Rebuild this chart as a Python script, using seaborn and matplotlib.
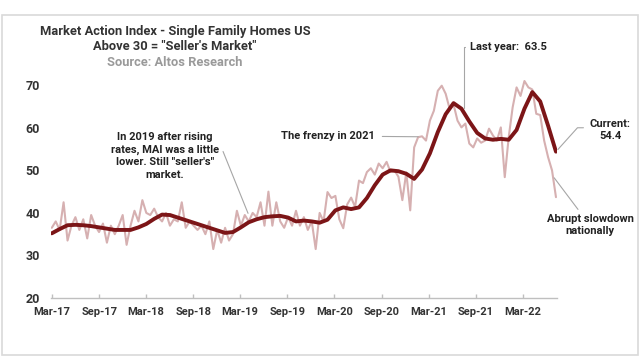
import numpy as np
import pandas as pd
import matplotlib
matplotlib.use("Agg")
import matplotlib.pyplot as plt
from matplotlib.patches import Rectangle
import seaborn as sns

# ---- data ----
period_start = "2017-03-01"
period_end = "2022-07-08"

# semi-monthly readings of the weekly Market Action Index (light line)
raw_values = [
    36.5, 38.0, 36.0, 42.5, 33.5, 37.0, 39.0, 36.0, 38.5, 34.0,
    39.5, 37.0, 35.5, 37.5, 33.0, 37.0, 35.0, 37.0, 39.5, 32.5,
    37.0, 40.5, 38.0, 43.0, 40.0, 39.5, 41.0, 39.0, 38.0, 40.0,
    37.0, 38.5, 38.0, 42.5, 36.5, 38.0, 37.0, 36.0, 37.0, 35.0,
    38.0, 31.5, 36.0, 33.0, 36.5, 33.5, 35.0, 40.5, 37.0, 39.5,
    38.0, 40.0, 39.0, 42.5, 37.0, 45.0, 37.0, 42.5, 38.0, 36.5,
    39.0, 37.0, 40.5, 37.0, 39.0, 36.0, 38.0, 31.5, 40.0, 38.0,
    44.9, 43.5, 44.0, 38.5, 36.4, 42.0, 43.6, 41.4, 47.6, 47.0,
    49.6, 50.5, 49.0, 51.6, 50.5, 52.0, 49.6, 50.0, 48.5, 43.0,
    49.5, 40.6, 55.4, 57.8, 58.0, 57.0, 61.7, 64.0, 68.7, 69.9,
    68.0, 64.5, 65.5, 61.7, 60.1, 61.0, 56.3, 55.4, 57.5, 56.5,
    57.0, 59.8, 58.2, 57.0, 60.1, 48.4, 57.8, 64.8, 69.5, 67.5,
    71.0, 69.5, 69.0, 63.3, 63.0, 57.0, 53.1, 50.0, 43.7,
]

# monthly readings of the smoothed index (dark line)
smooth_values = [
    35.2, 36.2, 37.1, 37.2, 37.1, 36.9, 36.6, 36.3, 36.0, 36.0,
    36.0, 36.6, 37.4, 38.6, 39.6, 39.5, 38.9, 38.3, 37.7, 37.1,
    36.5, 35.9, 35.3, 35.5, 36.6, 37.8, 38.5, 39.0, 39.2, 39.3,
    38.9, 38.0, 38.2, 38.0, 37.7, 38.4, 40.6, 41.3, 40.9, 41.3,
    43.5, 46.5, 49.0, 50.0, 49.8, 49.2, 48.0, 50.2, 54.0, 59.0,
    63.2, 65.8, 64.5, 61.5, 58.8, 57.5, 57.2, 57.4, 57.2, 59.5,
    64.5, 68.4, 66.2, 60.5, 54.4,
]

tick_labels = ["Mar-17", "Sep-17", "Mar-18", "Sep-18", "Mar-19", "Sep-19",
               "Mar-20", "Sep-20", "Mar-21", "Sep-21", "Mar-22"]
y_ticks = [20, 30, 40, 50, 60, 70]

raw_dates = pd.date_range(period_start, period_end, periods=len(raw_values))
smooth_dates = pd.date_range(period_start, period_end, periods=len(smooth_values))
tick_dates = pd.date_range(period_start, periods=len(tick_labels), freq="6MS")

# ---- style ----
sns.set_theme(style="white")
plt.rcParams["font.family"] = ["Roboto", "DejaVu Sans"]

RAW_COLOR = "#d6b0b1"
SMOOTH_COLOR = "#7c1517"
TEXT = "#222222"
LEADER = "#a6a6a6"
WEIGHT = "bold"

W, H = 640, 360
fig = plt.figure(figsize=(W / 100, H / 100), dpi=100)
fig.patch.set_facecolor("white")

# outer chart frame
fig.add_artist(Rectangle((2 / W, 5 / H), 636 / W, 340 / H, transform=fig.transFigure,
                         fill=False, ec="#d9d9d9", lw=1.2))

ax = fig.add_axes([51 / W, 1 - 298 / H, 506 / W, 234 / H])
sns.lineplot(x=raw_dates, y=raw_values, ax=ax, color=RAW_COLOR, lw=1.5)
sns.lineplot(x=smooth_dates, y=smooth_values, ax=ax, color=SMOOTH_COLOR, lw=2.8)

ax.set_xlim(pd.Timestamp("2017-02-26"), pd.Timestamp("2022-07-12"))
ax.set_ylim(20, 75)
ax.set_xticks(tick_dates)
ax.set_xticklabels(tick_labels)
ax.set_yticks(y_ticks)
ax.set_xlabel("")
ax.set_ylabel("")
for s in ["top", "right", "left"]:
    ax.spines[s].set_visible(False)
ax.spines["bottom"].set_color("#bfbfbf")
ax.spines["bottom"].set_linewidth(1.0)
ax.tick_params(axis="x", direction="in", length=3, color="#bfbfbf", width=1,
               labelsize=8, labelcolor="#333333", pad=6.5, bottom=True)
ax.tick_params(axis="y", length=0, labelsize=9, labelcolor="#333333", pad=8)
for lab in ax.get_xticklabels() + ax.get_yticklabels():
    lab.set_fontweight(WEIGHT)
ax.grid(False)


def fp(x, y):
    return (x, H - y)


# titles
fig.text(175 / W, 1 - 31 / H, "Market Action Index - Single Family Homes US",
         ha="center", va="center", fontsize=9.3, color="#333333", fontweight=WEIGHT)
fig.text(175 / W, 1 - 47 / H, 'Above 30 = "Seller\'s Market"',
         ha="center", va="center", fontsize=9.3, color="#333333", fontweight=WEIGHT)
fig.text(175 / W, 1 - 62 / H, "Source: Altos Research",
         ha="center", va="center", fontsize=9.3, color="#9a9a9a", fontweight=WEIGHT)

ann_kw = dict(fontsize=8, color=TEXT, fontweight=WEIGHT)

# 2019 note
ax.annotate('In 2019 after rising\nrates, MAI was a little\nlower. Still "seller\'s"\nmarket.',
            xy=(pd.Timestamp("2019-04-01"), 39.9), xytext=fp(165, 156),
            textcoords="figure pixels", ha="center", va="center", linespacing=1.3,
            arrowprops=dict(arrowstyle="-", color=LEADER, lw=0.8, relpos=(1.0, 0.62),
                            shrinkA=1, shrinkB=0,
                            connectionstyle="angle,angleA=0,angleB=112,rad=0"),
            **ann_kw)

# frenzy
ax.annotate("The frenzy in 2021", xy=(pd.Timestamp("2021-01-20"), 57.9),
            xytext=fp(281, 136), textcoords="figure pixels", ha="left", va="center",
            arrowprops=dict(arrowstyle="-", color=LEADER, lw=0.8, shrinkA=3, shrinkB=0),
            **ann_kw)

# last year
ax.annotate("Last year:  63.5", xy=(pd.Timestamp("2021-07-15"), 64.7),
            xytext=fp(470, 47), textcoords="figure pixels", ha="left", va="center",
            arrowprops=dict(arrowstyle="-", color=LEADER, lw=0.8, shrinkA=1, shrinkB=0,
                            relpos=(0.0, 0.5),
                            connectionstyle="angle,angleA=0,angleB=90,rad=0"),
            **ann_kw)

# current
ax.annotate("Current:\n54.4", xy=(smooth_dates[-1], smooth_values[-1]),
            xytext=fp(610, 130), textcoords="figure pixels", ha="center", va="center",
            linespacing=1.3,
            arrowprops=dict(arrowstyle="-", color=LEADER, lw=0.8, shrinkA=2, shrinkB=2,
                            relpos=(0.0, 0.6),
                            connectionstyle="angle,angleA=0,angleB=48,rad=0"),
            **ann_kw)

# abrupt slowdown
ax.annotate("Abrupt slowdown\nnationally", xy=(pd.Timestamp("2022-06-28"), 48.5),
            xytext=fp(590, 225), textcoords="figure pixels", ha="center", va="center",
            linespacing=1.3,
            arrowprops=dict(arrowstyle="-", color=LEADER, lw=0.8, shrinkA=1, shrinkB=1,
                            relpos=(0.4, 1.0)),
            **ann_kw)

fig.savefig("out.png", dpi=100, facecolor="white")
